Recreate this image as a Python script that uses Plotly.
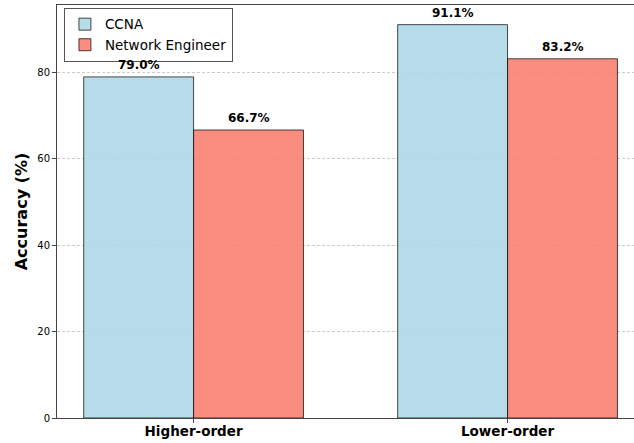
import plotly.graph_objects as go

categories = ["Higher-order", "Lower-order"]
ccna = [79.0, 91.1]
network_engineer = [66.7, 83.2]
series_names = ["CCNA", "Network Engineer"]
y_ticks = [0, 20, 40, 60, 80]
bar_width = 0.35

font = "DejaVu Sans"
fig = go.Figure()
series = [
    (series_names[0], ccna, "rgba(173,216,230,0.9)"),
    (series_names[1], network_engineer, "rgba(250,128,114,0.9)"),
]
for k, (name, vals, color) in enumerate(series):
    fig.add_trace(go.Bar(
        x=list(range(len(categories))), y=vals, name=name,
        marker=dict(color=color, line=dict(color="rgba(0,0,0,0.7)", width=1)),
    ))
    offset = (k - 0.5) * bar_width
    for i, v in enumerate(vals):
        fig.add_annotation(x=i + offset, y=v, xref="x", yref="y",
                           text=f"<b>{v:.1f}%</b>", showarrow=False,
                           yanchor="bottom", yshift=3,
                           font=dict(family=font, size=12, color="black"))

fig.update_layout(
    width=634, height=443,
    margin=dict(l=57, r=0, t=5, b=25),
    plot_bgcolor="white", paper_bgcolor="white",
    barmode="group", bargap=0.3, bargroupgap=0,
    font=dict(family=font, color="black"),
    legend=dict(x=0.012, y=0.993, xanchor="left", yanchor="top",
                bgcolor="rgba(255,255,255,0.85)", bordercolor="#555", borderwidth=1,
                tracegroupgap=0, font=dict(size=13.5, family=font)),
    xaxis=dict(range=[-0.435, 1.4027], tickmode="array",
               tickvals=list(range(len(categories))), ticktext=["<b>%s</b>" % c for c in categories],
               tickfont=dict(size=13.5), ticklabelstandoff=-3,
               showline=True, linecolor="#444", linewidth=1, mirror=True,
               ticks="outside", ticklen=4, tickcolor="#444", showgrid=False, zeroline=False),
    yaxis=dict(range=[0, 95.65], tickvals=y_ticks, tickfont=dict(size=10),
               title=dict(text="<b>Accuracy (%)</b>", font=dict(size=16), standoff=5),
               showline=True, linecolor="#444", linewidth=1,
               ticks="outside", ticklen=4, tickcolor="#444",
               showgrid=True, gridcolor="#cccccc", griddash="3px,2px", gridwidth=0.8,
               zeroline=False),
)
fig.write_html("out.html", post_script="document.body.style.margin='0';",
               config={"displayModeBar": False})
